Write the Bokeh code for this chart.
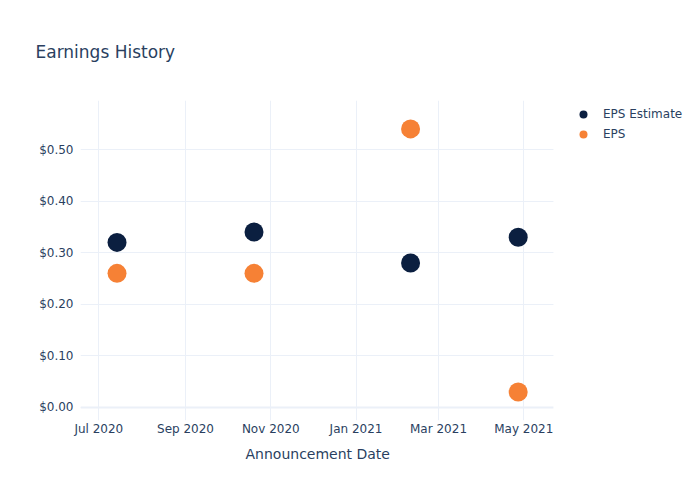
import pandas as pd
from bokeh.plotting import figure
from bokeh.models import (ColumnDataSource, Legend, LegendItem, NumeralTickFormatter, Title,
                          DatetimeTickFormatter, MonthsTicker, Range1d, SingleIntervalTicker,
                          Span, BoxAnnotation)
from bokeh.embed import file_html
from bokeh.resources import INLINE

dates = ["2020-07-14", "2020-10-20", "2021-02-09", "2021-04-27"]
eps_estimate = [0.32, 0.34, 0.28, 0.33]
eps_actual = [0.26, 0.26, 0.54, 0.03]

FONT = "DejaVu Sans"
TXT = "#2a3f5f"
GRID = "#ebf0f8"

def ms(s):
    return pd.Timestamp(s).value / 1e6

x_start = ms("2020-06-17 21:00")
x_axis_end = ms("2021-05-22 05:00")
x_frame_end = ms("2021-09-04 10:00")

src = ColumnDataSource(dict(date=pd.to_datetime(dates), est=eps_estimate, eps=eps_actual))

p = figure(width=700, height=500, x_axis_type="datetime", output_backend="svg",
           toolbar_location=None,
           x_range=Range1d(x_start, x_frame_end),
           y_range=Range1d(-0.0252, 0.595),
           min_border_left=80, min_border_right=0, min_border_top=100, min_border_bottom=80)
p.outline_line_color = None
p.background_fill_color = "white"

p.title.text = "Earnings History"
p.title.text_font = FONT
p.title.text_font_size = "17px"
p.title.text_font_style = "normal"
p.title.text_color = TXT
p.title.offset = -45
p.title.standoff = 77

p.xaxis.ticker = MonthsTicker(months=[0, 2, 4, 6, 8, 10])
p.xaxis.formatter = DatetimeTickFormatter(months="%b %Y", days="%b %Y")
p.xaxis.bounds = (x_start, x_axis_end)
p.yaxis.ticker = SingleIntervalTicker(interval=0.1)
p.yaxis.formatter = NumeralTickFormatter(format="$0.00")
p.xgrid.ticker = p.xaxis.ticker
p.ygrid.ticker = p.yaxis.ticker
p.xgrid.bounds = (x_start, x_axis_end)

for ax in (p.xaxis[0], p.yaxis[0]):
    ax.axis_line_color = None
    ax.major_tick_line_color = None
    ax.minor_tick_line_color = None
    ax.major_tick_out = 0
    ax.major_tick_in = 0
    ax.major_label_text_font = FONT
    ax.major_label_text_font_size = "12px"
    ax.major_label_text_color = TXT
p.yaxis.major_label_standoff = 3
p.xaxis.major_label_standoff = 1

xtitle = Title(text="Announcement Date", align="left", offset=165, standoff=11,
               text_font=FONT, text_font_size="14px", text_font_style="normal",
               text_color=TXT)
p.add_layout(xtitle, "below")

p.xgrid.grid_line_color = GRID
p.ygrid.grid_line_color = GRID

zero = Span(location=0, dimension="width", line_color=GRID, line_width=2, level="underlay")
p.add_layout(zero)

# white panel hides grid beyond the plotting area (legend area)
cover = BoxAnnotation(left=x_axis_end, fill_color="white", fill_alpha=1.0,
                      line_color=None, level="underlay")
p.add_layout(cover)

r1 = p.scatter("date", "est", source=src, size=19, color="#0b1f40", line_color=None)
r2 = p.scatter("date", "eps", source=src, size=19, color="#f68135", line_color=None)

legend = Legend(items=[LegendItem(label="EPS Estimate", renderers=[r1]),
                       LegendItem(label="EPS", renderers=[r2])],
                location=(483, 276), orientation="vertical",
                label_text_font=FONT, label_text_font_size="12px", label_text_color=TXT,
                glyph_width=40, glyph_height=20, label_height=20, spacing=0,
                label_standoff=0, padding=0, margin=0,
                border_line_color=None, background_fill_alpha=0)
p.add_layout(legend)

open("out.html", "w").write(file_html(p, INLINE))
